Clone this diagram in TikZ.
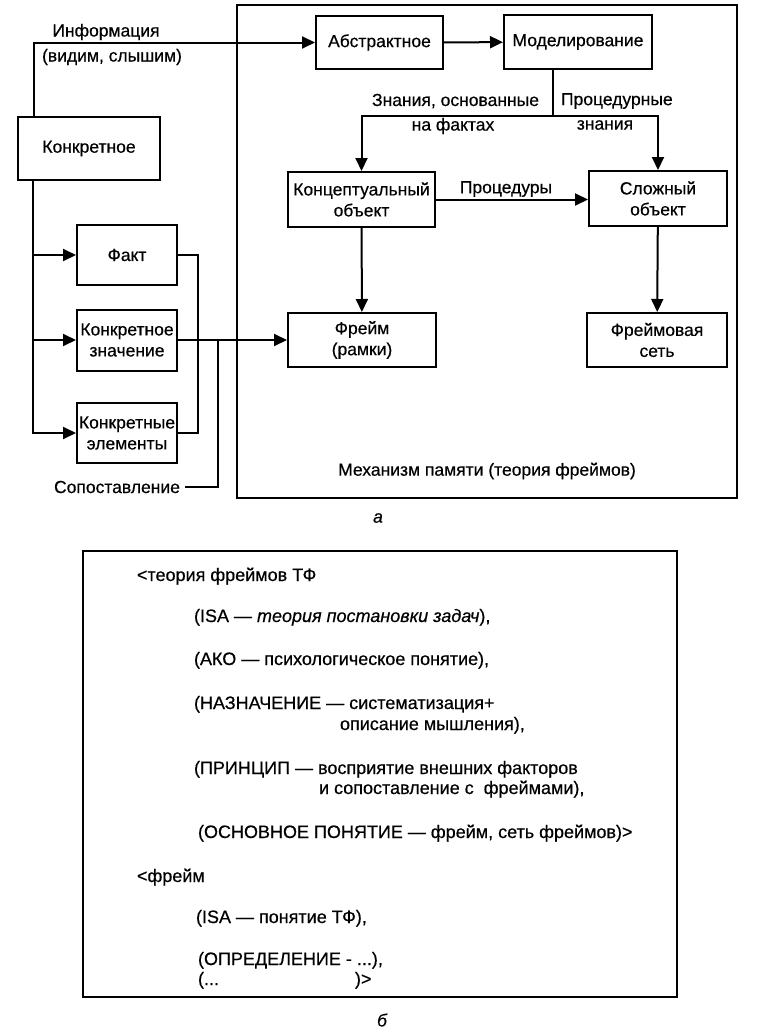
\documentclass[tikz,border=0pt]{standalone}
\usepackage{fontspec}
\setmainfont{Liberation Sans}[FakeBold=0.5]
\usetikzlibrary{arrows.meta}

\begin{document}
\begin{tikzpicture}[x=1pt, y=-1pt, line width=2pt,
    font=\fontsize{17.5}{21}\selectfont,
    block/.style={draw, align=center, inner sep=1pt},
    arr/.style={-{Triangle[length=13pt, width=12pt]}},
    lbl/.style={inner sep=1pt, align=center},
    txt/.style={inner sep=0pt, anchor=base west, font=\fontsize{18}{21}\selectfont}]
  \useasboundingbox (0,0) rectangle (765,1036);

  % --- a: memory mechanism
  \draw (237,5) rectangle (737,498);
  \node[block, minimum width=127, minimum height=53] (abs) at (379.5,42.5) {Абстрактное};
  \node[block, minimum width=148, minimum height=54] (model) at (578,42) {Моделирование};
  \node[block, minimum width=142, minimum height=63] (konkr) at (89,148.5) {Конкретное};
  \node[block, minimum width=100, minimum height=60] (fact) at (127,255) {Факт};
  \node[block, minimum width=100, minimum height=61] (znach) at (127,340) {Конкретное\\значение};
  \node[block, minimum width=100, minimum height=60] (elem) at (127,433) {Конкретные\\элементы};
  \node[block, minimum width=147, minimum height=55] (concept) at (361.5,199.5) {Концептуальный\\объект};
  \node[block, minimum width=138, minimum height=55] (slozh) at (658,198.5) {Сложный\\объект};
  \node[block, minimum width=148, minimum height=54] (frame) at (362,340) {Фрейм\\(рамки)};
  \node[block, minimum width=140, minimum height=54] (fnet) at (657,340) {Фреймовая\\сеть};

  \node[lbl] (info) at (106,32) {Информация};
  \node[lbl] (info2) at (112,57) {(видим, слышим)};
  \node[lbl, anchor=east] (facts1) at (541,101) {Знания, основанные};
  \node[lbl] (facts2) at (453,126) {на фактах};
  \node[lbl, anchor=west] (proc1) at (559,101) {Процедурные};
  \node[lbl] (proc2) at (605,125) {знания};
  \node[lbl] (procs) at (506,189) {Процедуры};
  \node[lbl] (memo) at (487,471) {Механизм памяти (теория фреймов)};
  \node[lbl, inner sep=4pt] (match) at (117,487) {Сопоставление};
  \node[lbl] (capa) at (378,518) {\itshape а};

  \draw[arr] ([xshift=-55pt]konkr.north) |- (abs.west);
  \draw[arr] (abs) -- (model);
  \draw ([xshift=-25pt]model.south) -- ++(0,46) coordinate (split);
  \draw[arr] (split) -| (concept.north);
  \draw[arr] (split) -| (slozh.north);
  \draw[arr] (concept) -- (concept -| slozh.west);
  \draw[arr] (concept) -- (frame);
  \draw[arr] (slozh) -- (fnet);

  \draw[arr] ([xshift=-56pt]konkr.south) |- (fact.west);
  \draw[arr] ([xshift=-56pt]konkr.south) |- (znach.west);
  \draw[arr] ([xshift=-56pt]konkr.south) |- (elem.west);
  \draw (fact.east) -- ++(20,0) |- (elem.east);
  \draw[arr] (znach) -- (frame);
  \coordinate (joint) at (218,340);
  \draw (match.east) -| (joint);

  % --- b: frame description
  \draw (83,551) rectangle (677,997);
  \node[txt] (t1) at (136,581) {<теория фреймов ТФ};
  \node[txt] (t2) at (193,622) {(ISA — \textit{теория постановки задач}),};
  \node[txt] (t3) at (193,665) {(АКО — психологическое понятие),};
  \node[txt] (t4) at (193,709) {(НАЗНАЧЕНИЕ — систематизация+};
  \node[txt] (t4b) at (339,730) {описание мышления),};
  \node[txt] (t5) at (193,774) {(ПРИНЦИП — восприятие внешних факторов};
  \node[txt] (t5b) at (318,794) {и сопоставление с\ \ фреймами),};
  \node[txt] (t6) at (197,838) {(ОСНОВНОЕ ПОНЯТИЕ — фрейм, сеть фреймов)>};
  \node[txt] (t7) at (136,882) {<фрейм};
  \node[txt] (t8) at (195,923) {(ISA — понятие ТФ),};
  \node[txt] (t9) at (197,965) {(ОПРЕДЕЛЕНИЕ - ...),};
  \node[txt] (t10) at (197,985) {(...\hspace{136pt})>};
  \node[lbl] (capb) at (382,1020) {\itshape б};
\end{tikzpicture}
\end{document}
